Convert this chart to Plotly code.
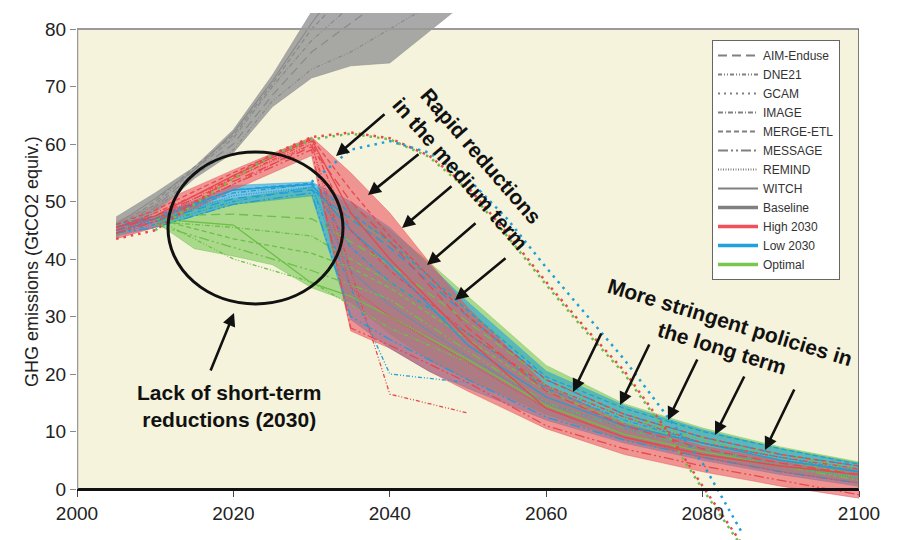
import plotly.graph_objects as go

# ---------------- data (GtCO2-eq) ----------------
base_years = [2005, 2010, 2015, 2020, 2025, 2030, 2035, 2040, 2045, 2050]
base_upper = [47.3, 51.5, 56.0, 62.5, 72.0, 83.0, 93.0, 101.0, 107.0, 112.0]
base_lower = [43.6, 48.0, 54.0, 58.5, 66.5, 71.5, 73.6, 74.1, 79.5, 85.0]
base_aim = [44.5, 49.0, 55.0, 60.0, 68.5, 76.0, 81.0, 86.0, 90.0, 95.0]
base_image = [45.0, 49.5, 55.5, 61.0, 70.0, 78.0, 84.0, 90.0, 95.0, 100.0]
base_merge = [45.5, 50.0, 56.0, 61.5, 70.5, 80.0, 87.0, 94.0, 100.0, 105.0]
base_witch = [46.0, 50.5, 55.5, 62.0, 71.0, 81.0, 90.0, 97.0, 103.0, 108.0]
base_dne = [44.0, 48.5, 54.5, 59.0, 67.5, 73.0, 76.0, 80.0, 84.0, 89.0]

band_years = [2005, 2010, 2020, 2030, 2035, 2040, 2045, 2050, 2060, 2070, 2080, 2090, 2100]
high_upper = [46.5, 49.5, 55.5, 61.2, 55.0, 48.0, 39.5, 31.5, 18.0, 11.5, 7.5, 5.0, 3.3]
high_lower = [43.5, 45.5, 52.0, 58.0, 27.5, 24.5, 20.5, 17.0, 10.5, 6.0, 3.0, 0.5, -1.6]
low_upper = [46.0, 47.5, 52.8, 53.4, 50.0, 45.5, 39.0, 32.5, 20.5, 14.5, 10.3, 7.0, 4.5]
low_lower = [44.0, 45.5, 49.5, 51.0, 29.5, 24.5, 20.5, 17.5, 12.0, 8.0, 5.0, 2.5, 0.5]

opt_years = [2010, 2015, 2020, 2025, 2030, 2035, 2040, 2045, 2050, 2060, 2070, 2080, 2090, 2100]
opt_upper = [47.5, 49.5, 50.5, 51.5, 52.5, 49.5, 45.0, 39.5, 33.5, 21.5, 14.8, 10.6, 7.3, 4.7]
opt_lower = [46.5, 41.8, 40.5, 39.0, 35.0, 32.5, 27.0, 22.5, 19.0, 13.0, 8.5, 5.5, 3.0, 1.0]

m_years = [2005, 2010, 2020, 2030, 2035, 2040, 2050, 2060, 2070, 2080, 2090, 2100]
high_aim = [45.0, 47.5, 53.5, 59.5, 50.0, 43.0, 28.0, 17.0, 11.0, 7.0, 4.5, 2.5]
high_dne = [44.5, 47.0, 53.0, 60.0, 38.0, 16.5, 13.2, None, None, None, None, None]
high_image = [45.5, 48.0, 54.0, 60.5, 45.0, 38.0, 27.0, 18.0, 12.5, 8.0, 5.5, 3.5]
high_merge = [46.0, 48.5, 55.0, 61.0, 52.0, 44.0, 30.0, 19.0, 13.0, 9.0, 6.0, 4.0]
high_message = [44.5, 46.5, 53.0, 59.0, 28.0, 25.0, 18.5, 11.0, 7.0, 4.0, 1.5, -1.0]
high_remind = [45.0, 47.0, 54.0, 60.0, 35.0, 30.0, 22.0, 14.0, 9.0, 5.5, 3.0, 1.0]
high_witch = [45.5, 47.5, 54.5, 60.8, 48.0, 40.0, 26.0, 14.0, 9.0, 6.0, 4.0, 2.5]

low_aim = [45.0, 46.5, 50.5, 52.0, 47.0, 42.0, 30.0, 19.0, 13.0, 9.0, 6.0, 4.0]
low_dne = [44.5, 46.0, 50.0, 52.5, 35.0, 20.0, 18.5, None, None, None, None, None]
low_image = [45.5, 47.0, 51.5, 53.0, 42.0, 36.0, 27.0, 17.5, 12.0, 8.0, 5.5, 3.0]
low_merge = [46.0, 47.5, 52.0, 53.2, 48.0, 43.0, 31.0, 19.5, 14.0, 10.0, 7.0, 4.3]
low_message = [44.5, 45.5, 49.5, 51.5, 30.0, 26.0, 19.0, 12.5, 8.5, 5.5, 3.0, 1.0]
low_remind = [45.0, 46.5, 51.0, 52.5, 38.0, 32.0, 23.0, 15.0, 10.5, 7.0, 4.0, 2.0]
low_witch = [45.5, 47.0, 52.0, 53.0, 45.0, 39.0, 25.0, 16.0, 11.0, 8.0, 5.0, 3.0]

opt_aim = [None, 47.5, 47.8, 47.0, 43.0, 39.0, 29.0, 19.0, 13.0, 9.0, 6.0, 3.5]
opt_dne = [None, 47.0, 40.0, 36.0, 32.0, 28.0, 22.0, None, None, None, None, None]
opt_image = [None, 46.5, 45.5, 44.0, 40.0, 36.0, 27.0, 18.0, 12.5, 8.5, 5.5, 3.0]
opt_merge = [None, 47.0, 43.5, 41.0, 38.5, 35.0, 26.0, 17.0, 11.5, 8.0, 5.0, 2.5]
opt_message = [None, 46.0, 42.0, 38.0, 35.5, 33.0, 24.0, 15.0, 10.5, 7.0, 4.0, 1.5]
opt_remind = [None, 47.5, 49.5, 51.0, 47.0, 43.0, 31.0, 20.0, 14.0, 10.0, 7.0, 4.5]
opt_witch = [None, 47.0, 45.9, 35.8, 33.5, 30.0, 22.5, 14.5, 9.5, 6.5, 4.0, 2.0]

gcam_years = [2005, 2010, 2015, 2020, 2025, 2030, 2035, 2040, 2045, 2050, 2055, 2060, 2065, 2070, 2075, 2080, 2085]
gcam_high = [43.5, 45.0, 49.7, 54.3, 58.2, 61.2, 62.0, 61.0, 58.0, 52.5, 44.5, 36.0, 28.0, 20.5, 11.0, 0.5, -9.5]
gcam_opt = [None, 45.0, 49.5, 54.0, 58.0, 60.8, 61.8, 60.8, 57.8, 52.0, 44.0, 35.5, 27.5, 20.0, 10.5, 0.0, -10.0]
gcam_low = [None, None, None, None, None, 53.4, 59.0, 60.5, 58.5, 54.0, 47.0, 38.5, 30.5, 22.5, 13.5, 4.5, -7.5]

legend_models = ["AIM-Enduse", "DNE21", "GCAM", "IMAGE", "MERGE-ETL", "MESSAGE", "REMIND", "WITCH"]
legend_scen = ["Baseline", "High 2030", "Low 2030", "Optimal"]
x_ticks = [2000, 2020, 2040, 2060, 2080, 2100]
y_ticks = [0, 10, 20, 30, 40, 50, 60, 70, 80]

# ---------------- styles ----------------
DASH = {"AIM-Enduse": "9px,5px", "DNE21": "4px,2px,1px,2px,1px,2px", "GCAM": "2px,4px",
        "IMAGE": "5px,2px,1px,2px", "MERGE-ETL": "5px,3px", "MESSAGE": "10px,3px,2px,3px,2px,3px",
        "REMIND": "1px,1.5px", "WITCH": "solid"}
RED, BLUE, GREEN, GRAY = "#E8474F", "#1F9ED8", "#6CBF47", "#858585"
FONT = "Liberation Sans, Arial, sans-serif"

# calibration of the picture (pixels -> data) for decorations
W, H = 897, 540
ML, MR, MT, MB = 77, 38, 13, 0
PXY, PXV = 7.82, 5.75
def dx(px): return 2000 + (px - ML) / PXY
def dy(py): return (489 - py) / PXV

fig = go.Figure()

def band(xs, up, lo, color):
    fig.add_trace(go.Scatter(x=xs + xs[::-1], y=up + lo[::-1], fill="toself", fillcolor=color,
                             line=dict(width=0.8, color=color), mode="lines", showlegend=False,
                             hoverinfo="skip"))

band(opt_years, opt_upper, opt_lower, "rgba(110,195,75,0.55)")
band(band_years, low_upper, low_lower, "rgba(30,160,225,0.58)")
band(band_years, high_upper, high_lower, "rgba(235,80,90,0.58)")
band(base_years, base_upper, base_lower, "rgba(150,150,150,0.82)")

def line(xs, ys, color, dash, width=1.3):
    fig.add_trace(go.Scatter(x=xs, y=ys, mode="lines", line=dict(color=color, width=width, dash=dash),
                             showlegend=False, hoverinfo="skip", connectgaps=False))

for ys, m in [(base_aim, "AIM-Enduse"), (base_image, "IMAGE"), (base_merge, "MERGE-ETL"),
              (base_witch, "WITCH"), (base_dne, "DNE21")]:
    line(base_years, ys, "#8A8A8A", DASH[m], 1.2)

scen_lines = [
    (GREEN, [(opt_aim, "AIM-Enduse"), (opt_dne, "DNE21"), (opt_image, "IMAGE"), (opt_merge, "MERGE-ETL"),
             (opt_message, "MESSAGE"), (opt_remind, "REMIND"), (opt_witch, "WITCH")]),
    (BLUE, [(low_aim, "AIM-Enduse"), (low_dne, "DNE21"), (low_image, "IMAGE"), (low_merge, "MERGE-ETL"),
            (low_message, "MESSAGE"), (low_remind, "REMIND"), (low_witch, "WITCH")]),
    (RED, [(high_aim, "AIM-Enduse"), (high_dne, "DNE21"), (high_image, "IMAGE"), (high_merge, "MERGE-ETL"),
           (high_message, "MESSAGE"), (high_remind, "REMIND"), (high_witch, "WITCH")]),
]
for color, lst in scen_lines:
    for ys, m in lst:
        line(m_years, ys, color, DASH[m], 1.3)

line(gcam_years, gcam_high, RED, "2.5px,5px", 2.5)
line(gcam_years, gcam_opt, GREEN, "2.5px,5px", 2.5)
line(gcam_years, gcam_low, BLUE, "2.5px,5px", 2.5)

# legend entries
for m in legend_models:
    fig.add_trace(go.Scatter(x=[None], y=[None], mode="lines", name=m,
                             line=dict(color="#808080", width=2, dash=DASH[m])))
for s, c in zip(legend_scen, ["#808080", "#F0505A", "#22A0E0", "#78C850"]):
    fig.add_trace(go.Scatter(x=[None], y=[None], mode="lines", name=s, line=dict(color=c, width=3.5)))

yr0, yr1 = dy(H), dy(MT)
shapes = [
    dict(type="rect", xref="x", yref="y", x0=2000, x1=2100, y0=0, y1=80, fillcolor="#F5F3DB",
         line=dict(width=0), layer="below"),
    dict(type="line", xref="x", yref="y", x0=2000, x1=2000, y0=0, y1=80, line=dict(color="#9A9A9A", width=2.5)),
    dict(type="line", xref="x", yref="y", x0=2000, x1=2100, y0=80, y1=80, line=dict(color="#9A9A9A", width=2)),
    dict(type="line", xref="x", yref="y", x0=2100, x1=2100, y0=0, y1=80, line=dict(color="#555555", width=1.5)),
    dict(type="circle", xref="x", yref="y", x0=dx(168), x1=dx(343), y0=dy(304), y1=dy(152),
         line=dict(color="#111111", width=3)),
]

ann = []
def arrow(tx, ty, hx, hy):
    ann.append(dict(x=dx(hx), y=dy(hy), ax=dx(tx), ay=dy(ty), xref="x", yref="y", axref="x", ayref="y",
                    text="", showarrow=True, arrowhead=2, arrowsize=1.0, arrowwidth=2.6, arrowcolor="#111111"))

for t, h in [((386, 113), (336, 156)), ((420, 153), (368, 195)), ((453, 185), (402, 228)),
             ((477, 222), (427, 265)), ((507, 257), (455, 300)),
             ((602, 332), (573, 392)), ((650, 343), (620, 405)), ((698, 358), (668, 420)),
             ((745, 375), (715, 435)), ((795, 388), (765, 450)),
             ((210, 372), (234, 313))]:
    arrow(t[0], t[1], h[0], h[1])

bold = dict(family=FONT, size=21, color="#111111")
ann.append(dict(x=dx(229), y=dy(406), xref="x", yref="y", text="<b>Lack of short-term<br>reductions (2030)</b>",
                showarrow=False, font=bold))
ann.append(dict(x=dx(471), y=dy(165), xref="x", yref="y", text="<b>Rapid reductions<br>in the medium term</b>",
                showarrow=False, font=bold, textangle=49))
ann.append(dict(x=dx(726), y=dy(335), xref="x", yref="y", text="<b>More stringent policies in<br>the long term</b>",
                showarrow=False, font=bold, textangle=17))
ann.append(dict(x=(20 - ML) / (W - ML - MR), y=1 - (262 - MT) / (H - MT - MB), xref="paper", yref="paper",
                text="GHG emissions (GtCO2 equiv.)", textangle=-90, showarrow=False,
                font=dict(family=FONT, size=18, color="#222222")))

fig.update_layout(
    width=W, height=H, margin=dict(l=ML, r=MR, t=MT, b=MB),
    paper_bgcolor="white", plot_bgcolor="white",
    font=dict(family=FONT, color="#222222"),
    shapes=shapes, annotations=ann,
    legend=dict(x=(712 - ML) / (W - ML - MR), y=1 - (40 - MT) / (H - MT - MB), xanchor="left", yanchor="top",
                bgcolor="white", bordercolor="#666666", borderwidth=1, itemwidth=40,
                font=dict(family=FONT, size=12, color="#333333"), tracegroupgap=0),
    xaxis=dict(range=[2000, 2100], tickvals=x_ticks, anchor="free", position=(0 - yr0) / (yr1 - yr0),
               showline=True, linecolor="#111111", linewidth=2.5, ticks="outside", ticklen=6,
               tickcolor="#444444", tickfont=dict(family=FONT, size=19, color="#222222"),
               showgrid=False, zeroline=False),
    yaxis=dict(range=[yr0, yr1], tickvals=y_ticks, showline=False, ticks="outside", ticklen=6,
               tickcolor="#8A8A8A", tickfont=dict(family=FONT, size=19, color="#222222"),
               showgrid=False, zeroline=False),
    showlegend=True,
)

fig.write_html("out.html")
